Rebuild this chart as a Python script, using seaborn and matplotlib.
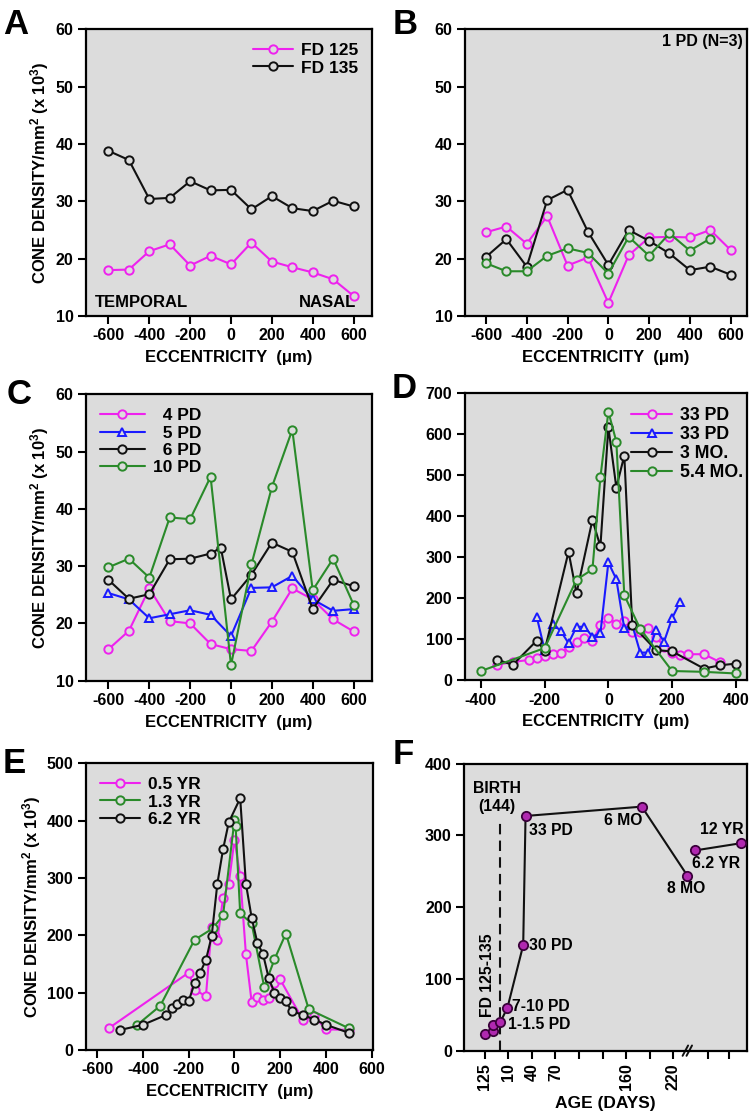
import numpy as np
import pandas as pd
import matplotlib
matplotlib.use('Agg')
import matplotlib.pyplot as plt
import seaborn as sns

# ---- DATA ----
# panel A
ecc13 = [-600, -500, -400, -300, -200, -100, 0, 100, 200, 300, 400, 500, 600]
fd125 = [18.0, 18.1, 21.3, 22.5, 18.8, 20.5, 19.0, 22.8, 19.5, 18.5, 17.6, 16.4, 13.5]
fd135 = [38.8, 37.2, 30.4, 30.6, 33.5, 31.9, 32.0, 28.6, 30.9, 28.8, 28.3, 30.1, 29.1]

# panel B (1 PD, N=3)
b_mag = [24.6, 25.6, 22.6, 27.4, 18.8, 20.2, 12.3, 20.6, 23.7, 23.8, 23.7, 25.0, 21.5]
b_blk = [20.3, 23.4, 18.6, 30.2, 32.0, 24.7, 18.9, 25.0, 23.1, 20.9, 18.0, 18.6, 17.2]
ecc_b_grn = [-600, -500, -400, -300, -200, -100, 0, 100, 200, 300, 400, 500]
b_grn = [19.2, 17.8, 17.8, 20.5, 21.8, 21.0, 17.4, 23.8, 20.5, 24.4, 21.4, 23.5]

# panel C
pd4 = [15.5, 18.7, 26.1, 20.4, 20.0, 16.4, 15.5, 15.2, 20.3, 26.1, 24.2, 20.7, 18.6]
pd5 = [25.3, 24.2, 20.9, 21.6, 22.3, 21.5, 17.8, 26.2, 26.3, 28.3, 24.2, 22.2, 22.5]
ecc_pd6 = [-600, -500, -400, -300, -200, -100, -50, 0, 100, 200, 300, 400, 500, 600]
pd6 = [27.6, 24.3, 25.1, 31.2, 31.3, 32.2, 33.2, 24.2, 28.5, 34.1, 32.5, 22.5, 27.6, 26.5]
pd10 = [29.8, 31.3, 28.0, 38.5, 38.2, 45.6, 12.7, 30.3, 43.8, 53.8, 25.8, 31.3, 23.3]

# panel D
d_mag_x = [-350, -300, -250, -225, -200, -175, -150, -125, -100, -75, -50, -25, 0, 25, 50,
           75, 100, 125, 150, 175, 200, 225, 250, 300, 350]
d_mag_y = [37, 44, 49, 55, 59, 63, 67, 81, 94, 102, 95, 134, 152, 138, 144,
           118, 118, 126, 106, 81, 65, 61, 63, 63, 44]
d_blu_x = [-225, -200, -175, -150, -125, -100, -75, -50, -25, 0, 25, 50, 75, 100, 125, 150, 175, 200, 225]
d_blu_y = [155, 73, 138, 120, 90, 130, 130, 106, 114, 287, 246, 126, 134, 67, 67, 122, 94, 151, 190]
d_blk_x = [-350, -300, -225, -200, -125, -100, -50, -25, 0, 25, 50, 75, 150, 200, 300, 350, 400]
d_blk_y = [50, 37, 96, 72, 313, 212, 391, 326, 617, 470, 548, 134, 73, 70, 28, 36, 40]
d_grn_x = [-400, -200, -100, -50, -25, 0, 25, 50, 100, 200, 300, 400]
d_grn_y = [22, 78, 245, 270, 495, 655, 582, 207, 125, 22, 20, 16]

# panel E
e_mag_x = [-550, -200, -175, -125, -100, -87, -75, -50, -25, 0, 25, 50, 75, 100, 125, 150,
           175, 200, 300, 350, 400, 500]
e_mag_y = [38, 135, 105, 94, 214, 198, 192, 265, 290, 367, 303, 167, 84, 92, 88, 90,
           117, 123, 52, 59, 36, 35]
e_grn_x = [-425, -325, -175, -95, -50, 0, 5, 25, 75, 130, 175, 225, 325, 500]
e_grn_y = [44, 77, 192, 212, 235, 401, 390, 238, 221, 110, 158, 203, 71, 38]
e_blk_x = [-500, -400, -300, -275, -250, -225, -200, -175, -150, -125, -100, -75, -50, -25,
           25, 50, 75, 100, 125, 150, 175, 200, 225, 250, 300, 350, 400, 500]
e_blk_y = [35, 44, 61, 73, 81, 87, 86, 116, 135, 157, 198, 290, 350, 397,
           439, 290, 231, 187, 167, 125, 100, 90, 85, 68, 61, 53, 44, 30]

# panel F: days after birth (birth = FD 144)
f_age = [-20, -10, -10, 0, 9, 29, 32, 180, 238, 248, 306]
f_dens = [23, 28, 36, 40, 60, 147, 327, 340, 244, 279, 289]
f_ticks = [-20, 10, 40, 70, 100, 130, 160, 190, 220, 264, 291]
f_ticklabels = ['125', '10', '40', '70', '', '', '160', '', '220', '', '']

# ---- STYLE ----
BG = '#dcdcdc'
MAG = '#ee22ee'
GRN = '#2a8a2a'
BLU = '#1a1aff'
BLK = '#111111'

sns.set_style('ticks')
plt.rcParams['font.family'] = ['Liberation Sans', 'DejaVu Sans']
plt.rcParams['font.weight'] = 'bold'
plt.rcParams['axes.labelweight'] = 'bold'
plt.rcParams['axes.unicode_minus'] = False
plt.rcParams['text.color'] = 'black'
plt.rcParams['axes.labelcolor'] = 'black'
plt.rcParams['xtick.color'] = 'black'
plt.rcParams['ytick.color'] = 'black'
plt.rcParams['mathtext.fontset'] = 'custom'
plt.rcParams['mathtext.bf'] = 'Liberation Sans:bold'
plt.rcParams['mathtext.rm'] = 'Liberation Sans:bold'
plt.rcParams['mathtext.default'] = 'bf'

fig = plt.figure(figsize=(7.49, 11.17), dpi=100)
axA = fig.add_axes([0.1148, 0.7171, 0.3818, 0.2567])
axB = fig.add_axes([0.6208, 0.7171, 0.3765, 0.2567])
axC = fig.add_axes([0.1148, 0.3906, 0.3818, 0.2564])
axD = fig.add_axes([0.6208, 0.3912, 0.3765, 0.2567])
axE = fig.add_axes([0.1148, 0.0600, 0.3828, 0.2567])
axF = fig.add_axes([0.6199, 0.0594, 0.3774, 0.2570])

YLAB = r'CONE DENSITY/mm$^2$ (x 10$^3$)'
XLAB = u'ECCENTRICITY  (\u03bcm)'
TXT = 12


def series(ax, x, y, color, label=None, marker='o'):
    sns.lineplot(x=x, y=y, ax=ax, color=color, marker=marker, markerfacecolor=BG,
                 markeredgecolor=color, markeredgewidth=1.4, markersize=6, linewidth=1.5,
                 sort=False, estimator=None, label=label)


def style(ax):
    ax.set_facecolor(BG)
    for s in ax.spines.values():
        s.set_linewidth(1.6)
        s.set_color('black')
    ax.tick_params(direction='out', length=6, width=1.5, labelsize=11.5, pad=3, colors='black')
    for t in ax.get_xticklabels() + ax.get_yticklabels():
        t.set_fontweight('bold')


def legend(ax, loc, size, **kw):
    opts = dict(loc=loc, frameon=False, fontsize=size, handlelength=2.3,
                handletextpad=0.45, labelspacing=0.12, borderaxespad=0.4)
    opts.update(kw)
    leg = ax.legend(**opts)
    for t in leg.get_texts():
        t.set_fontweight('bold')
        t.set_color('black')


# A
series(axA, ecc13, fd125, MAG, 'FD 125')
series(axA, ecc13, fd135, BLK, 'FD 135')
axA.set_xlim(-710, 690)
axA.set_ylim(10, 60)
axA.set_xticks(range(-600, 601, 200))
axA.set_yticks(range(10, 61, 10))
axA.text(-665, 12.4, 'TEMPORAL', fontsize=TXT, fontweight='bold', va='center')
axA.text(615, 12.4, 'NASAL', fontsize=TXT, fontweight='bold', va='center', ha='right')
legend(axA, 'upper right', 12.5)

# B
series(axB, ecc13, b_mag, MAG)
series(axB, ecc13, b_blk, BLK)
series(axB, ecc_b_grn, b_grn, GRN)
axB.set_xlim(-703, 680)
axB.set_ylim(10, 60)
axB.set_xticks(range(-600, 601, 200))
axB.set_yticks(range(10, 61, 10))
axB.text(660, 57.8, '1 PD (N=3)', fontsize=11.5, fontweight='bold', ha='right', va='center')
if axB.get_legend():
    axB.get_legend().remove()

# C
series(axC, ecc13, pd4, MAG, '  4 PD')
series(axC, ecc13, pd5, BLU, '  5 PD', marker='^')
series(axC, ecc_pd6, pd6, BLK, '  6 PD')
series(axC, ecc13, pd10, GRN, '10 PD')
axC.set_xlim(-710, 690)
axC.set_ylim(10, 60)
axC.set_xticks(range(-600, 601, 200))
axC.set_yticks(range(10, 61, 10))
legend(axC, 'upper left', 12.5, handlelength=2.6)

# D
series(axD, d_mag_x, d_mag_y, MAG, '33 PD')
series(axD, d_blu_x, d_blu_y, BLU, '33 PD', marker='^')
series(axD, d_blk_x, d_blk_y, BLK, '3 MO.')
series(axD, d_grn_x, d_grn_y, GRN, '5.4 MO.')
axD.set_xlim(-450, 435)
axD.set_ylim(0, 700)
axD.set_xticks(range(-400, 401, 200))
axD.set_yticks(range(0, 701, 100))
legend(axD, 'upper right', 12.8, borderaxespad=0.0, borderpad=0.2,
       bbox_to_anchor=(1.0, 0.965))

# E
series(axE, e_mag_x, e_mag_y, MAG, '0.5 YR')
series(axE, e_grn_x, e_grn_y, GRN, '1.3 YR')
series(axE, e_blk_x, e_blk_y, BLK, '6.2 YR')
axE.set_xlim(-650, 605)
axE.set_ylim(0, 500)
axE.set_xticks(range(-600, 601, 200))
axE.set_yticks(range(0, 501, 100))
legend(axE, 'upper left', 12.5)

for ax in (axA, axB, axC, axD, axE):
    ax.set_xlabel(XLAB, fontsize=12, fontweight='bold', labelpad=5)
for ax in (axA, axC, axE):
    ax.set_ylabel(YLAB, fontsize=12, fontweight='bold', labelpad=3)

# F
dfF = pd.DataFrame({'age': f_age, 'dens': f_dens})
pre = dfF.iloc[:9]
post = dfF.iloc[9:]
for part in (pre, post):
    sns.lineplot(data=part, x='age', y='dens', ax=axF, color=BLK, linewidth=1.5,
                 sort=False, estimator=None)
sns.scatterplot(data=dfF, x='age', y='dens', ax=axF, color='#b028b0', edgecolor='#3a003a',
                linewidth=1.3, s=45, zorder=5)
axF.plot([0, 0], [0, 321], color=BLK, lw=1.5, dashes=(5, 3))
axF.set_xlim(-46, 314)
axF.set_ylim(0, 400)
axF.set_yticks(range(0, 401, 100))
axF.set_xticks(f_ticks)
axF.set_xticklabels(f_ticklabels, rotation=90)
axF.set_xlabel('AGE (DAYS)', fontsize=12.5, fontweight='bold', labelpad=4)
axF.set_ylabel('')
# axis break marks
tr = axF.get_xaxis_transform()
for dx in (-4, 1):
    axF.plot([236 + dx, 243 + dx], [-0.018, 0.018], transform=tr, color=BLK, lw=1.4, clip_on=False)

fs = 11.3
axF.text(-4, 365, 'BIRTH', ha='center', va='center', fontsize=fs, fontweight='bold')
axF.text(-5, 340, '(144)', ha='center', va='center', fontsize=fs, fontweight='bold')
axF.text(-16, 105, 'FD 125-135', rotation=90, ha='center', va='center', fontsize=fs, fontweight='bold')
axF.text(10, 36, '1-1.5 PD', ha='left', va='center', fontsize=fs, fontweight='bold')
axF.text(15, 61, '7-10 PD', ha='left', va='center', fontsize=fs, fontweight='bold')
axF.text(36, 147, '30 PD', ha='left', va='center', fontsize=fs, fontweight='bold')
axF.text(36, 307, '33 PD', ha='left', va='center', fontsize=fs, fontweight='bold')
axF.text(156, 321, '6 MO', ha='center', va='center', fontsize=fs, fontweight='bold')
axF.text(237, 226, '8 MO', ha='center', va='center', fontsize=fs, fontweight='bold')
axF.text(275, 261, '6.2 YR', ha='center', va='center', fontsize=fs, fontweight='bold')
axF.text(282, 308, '12 YR', ha='center', va='center', fontsize=fs, fontweight='bold')

for ax in (axA, axB, axC, axD, axE, axF):
    style(ax)

# panel letters
for letter, x, y in [('A', 3, 8), ('B', 393, 8), ('C', 7, 378), ('D', 392, 372),
                     ('E', 3, 747), ('F', 393, 738)]:
    fig.text(x / 749, 1 - y / 1117, letter, fontsize=25, fontweight='bold', va='top', ha='left')

fig.savefig('out.png', dpi=100, facecolor='white')
